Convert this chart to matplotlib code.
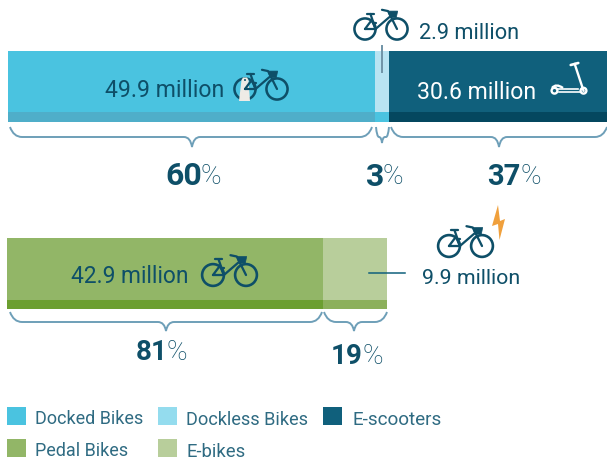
import numpy as np
import matplotlib
matplotlib.use("Agg")
import matplotlib.pyplot as plt
from matplotlib.path import Path
from matplotlib.patches import PathPatch, Polygon, Circle, Rectangle

plt.rcParams['font.family'] = ['Roboto', 'DejaVu Sans']

# bar lengths, in millions on one common scale
top_lengths = [49.9, 2.0, 29.6]
bottom_lengths = [42.9, 8.8]

top_labels = ["49.9 million", "2.9 million", "30.6 million"]
bottom_labels = ["42.9 million", "9.9 million"]
top_pct = ["60", "3", "37"]
bottom_pct = ["81", "19"]

legend_names = ["Docked Bikes", "Dockless Bikes", "E-scooters", "Pedal Bikes", "E-bikes"]

top_colors = ["#4AC3E0", "#B9E4F2", "#10607C"]
top_band = ["#4FAEC9", "#4AC3E0", "#04475F"]
bottom_colors = ["#92B667", "#B8CE9B"]
bottom_band = ["#6C9F30", "#8CB05B"]
legend_colors = ["#4AC3E0", "#94DCEE", "#10607C", "#92B667", "#B8CE9B"]

INK = "#0E4F68"
BRACE = "#6E9FB8"
W, H = 607, 462
PX = 7.35  # pixels per million


def stacked(ax, lengths, colors, band, y0, y1, yb, start=0.0):
    left = start
    for w, c, b in zip(lengths, colors, band):
        ax.barh((y0+y1)/2, w, y1-y0, left=left, color=c, linewidth=0)
        ax.barh((yb+y1)/2, w, y1-yb, left=left, color=b, linewidth=0)
        left += w


def brace(ax, x0, x1, xm, yt, ym, yb):
    r = 12 if x1-x0 > 30 else 3
    s = 8 if x1-x0 > 30 else 3
    verts = [(x0, yt), (x0+r*0.3, ym), (x0+r, ym),
             (xm-s, ym), (xm-s*0.2, ym), (xm, yb),
             (xm+s*0.2, ym), (xm+s, ym),
             (x1-r, ym), (x1-r*0.3, ym), (x1, yt)]
    codes = [Path.MOVETO, Path.CURVE3, Path.CURVE3,
             Path.LINETO, Path.CURVE3, Path.CURVE3,
             Path.CURVE3, Path.CURVE3,
             Path.LINETO, Path.CURVE3, Path.CURVE3]
    ax.add_patch(PathPatch(Path(verts, codes), fill=False, ec=BRACE, lw=1.4))


def bike(ax, x, y, d, color=INK):
    # x,y is the left wheel centre, d the wheel spacing, all in pixels
    lw = d/32*1.6
    for cx in (x, x+d):
        ax.add_patch(Circle((cx, y), 0.33*d, fill=False, ec=color, lw=lw*1.15))
    tubes = [[(.05, .47), (.27, .47)], [(.17, .47), (.33, 0)], [(0, 0), (.21, .28), (.33, 0), (0, 0)],
             [(.33, 0), (.76, .37)], [(.24, .2), (.33, .2)],
             [(.53, .6), (.72, .56), (1, 0)]]
    for t in tubes:
        t = np.array(t)
        ax.plot(x+t[:, 0]*d, y-t[:, 1]*d, color=color, lw=lw, solid_capstyle='round')
    basket = np.array([(.72, .56), (1.02, .56), (.98, .36), (.78, .36)])
    ax.add_patch(Polygon(np.c_[x+basket[:, 0]*d, y-basket[:, 1]*d], fc=color, ec=color, lw=0.5))


def scooter(ax, color="white"):
    for cx in (554.5, 583.5):
        ax.add_patch(Circle((cx, 90.7), 2.9, fill=False, ec=color, lw=1.7))
    ax.plot([570.7, 578.3], [65, 63], color=color, lw=1.9, solid_capstyle='round')
    ax.plot([574.7, 583.5], [64, 90.7], color=color, lw=1.7)
    ax.plot([558, 578], [88.5, 88.5], color=color, lw=1.2)
    ax.plot([559, 580], [91.5, 91.5], color=color, lw=1.2)
    ax.add_patch(PathPatch(Path([(552, 88), (556, 83), (563, 88)],
                                [Path.MOVETO, Path.CURVE3, Path.CURVE3]),
                           fill=False, ec=color, lw=1.7))


def pct(ax, xsplit, y, num, size=23):
    ax.text(xsplit, y, num, ha='right', va='center_baseline', fontsize=size,
            fontweight='bold', color=INK)
    ax.text(xsplit-1, y, "%", ha='left', va='center_baseline', fontsize=20,
            fontweight='light', color=INK)


fig = plt.figure(figsize=(W/100, H/100), dpi=100)

# bars on a scale in millions
ax = fig.add_axes([0, 0, 1, 1])
ax.set_xlim(-8/PX, (W-8)/PX)
ax.set_ylim(H, 0)
ax.axis('off')
stacked(ax, top_lengths, top_colors, top_band, 51, 122, 112)
stacked(ax, bottom_lengths, bottom_colors, bottom_band, 238, 309, 300, start=-0.1)

# everything else placed in pixels
ov = fig.add_axes([0, 0, 1, 1])
ov.set_xlim(0, W)
ov.set_ylim(H, 0)
ov.axis('off')
ov.patch.set_alpha(0)

ov.plot([381.7, 381.7], [46, 72], color="#6F93A6", lw=1.4)
ov.plot([369, 405], [273, 273], color="#10607C", lw=1.1)

ov.text(105, 88, top_labels[0], color=INK, va='center_baseline', fontsize=16.6)
ov.text(419, 31, top_labels[1], color=INK, va='center_baseline', fontsize=15.7)
ov.text(417, 90, top_labels[2], color="white", va='center_baseline', fontsize=16.6)
ov.text(71, 274, bottom_labels[0], color=INK, va='center_baseline', fontsize=16.4)
ov.text(422, 276, bottom_labels[1], color=INK, va='center_baseline', fontsize=15.4)

bike(ov, 245, 89, 32)
ov.add_patch(Polygon([(239, 101), (241.5, 80), (243, 77.5), (247, 77.5), (248.5, 80), (250, 101)],
                     fc="#EEEBE6", ec="none"))
ov.add_patch(Circle((245, 80), 1, fc=INK, ec="none"))
bike(ov, 365, 29, 32)
bike(ov, 449, 246, 33)
bike(ov, 213, 275, 33)
scooter(ov)
ov.add_patch(Polygon([(498, 205), (492, 226), (498, 224), (499.5, 240), (505, 219), (500, 221)],
                     fc="#F0A03C", ec="none"))

brace(ov, 10, 372, 192, 127, 137, 147)
brace(ov, 376, 389, 382, 127, 137, 143)
brace(ov, 391, 607, 499, 127, 137, 147)
brace(ov, 10, 322, 166, 312, 322, 331)
brace(ov, 324, 387, 354, 312, 322, 331)

pct(ov, 202, 173, top_pct[0])
pct(ov, 384, 174, top_pct[1])
pct(ov, 521, 174, top_pct[2], size=21)
pct(ov, 168, 350, bottom_pct[0], size=20)
pct(ov, 363, 353, bottom_pct[1], size=20)

# legend
sw_x = [7, 158, 323, 7, 158]
sw_y = [407, 407, 407, 439, 439]
tx_x = [35, 186, 353, 35, 187]
tx_y = [417, 418, 418, 449, 450]
tx_fs = [13, 13.1, 13.6, 13, 13.3]
for i in range(len(legend_names)):
    ov.add_patch(Rectangle((sw_x[i], sw_y[i]), 19, 18, fc=legend_colors[i], ec="none"))
    ov.text(tx_x[i], tx_y[i], legend_names[i], color="#2F6B82", va='center_baseline', fontsize=tx_fs[i])

fig.savefig("out.png", dpi=100)
